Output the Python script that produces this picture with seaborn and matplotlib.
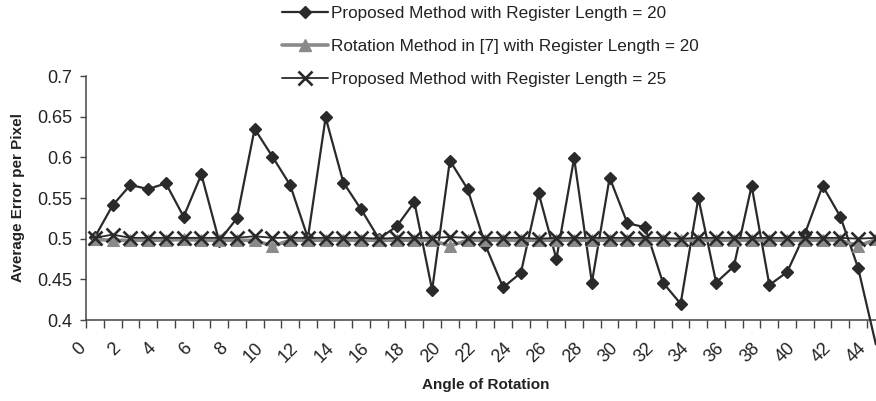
import numpy as np
import pandas as pd
import matplotlib
matplotlib.use("Agg")
import matplotlib.pyplot as plt
from matplotlib.lines import Line2D
from matplotlib.transforms import ScaledTranslation
import seaborn as sns

sns.set_style("white")
plt.rcParams['font.family'] = ['Liberation Sans', 'DejaVu Sans']

angles = list(range(0, 45))
proposed_20 = [0.502, 0.541, 0.566, 0.561, 0.568, 0.527, 0.579, 0.497, 0.525, 0.635,
               0.601, 0.566, 0.501, 0.649, 0.569, 0.536, 0.500, 0.515, 0.545, 0.437,
               0.596, 0.561, 0.492, 0.440, 0.458, 0.556, 0.475, 0.599, 0.446, 0.575,
               0.519, 0.514, 0.446, 0.420, 0.550, 0.446, 0.466, 0.565, 0.443, 0.459,
               0.506, 0.565, 0.527, 0.464, 0.370]
rotation_7 = [0.499, 0.498, 0.498, 0.498, 0.498, 0.499, 0.498, 0.498, 0.498, 0.498,
              0.491, 0.498, 0.498, 0.498, 0.498, 0.498, 0.498, 0.498, 0.498, 0.498,
              0.491, 0.498, 0.498, 0.498, 0.498, 0.498, 0.498, 0.498, 0.498, 0.498,
              0.498, 0.498, 0.498, 0.498, 0.498, 0.498, 0.498, 0.498, 0.498, 0.498,
              0.498, 0.498, 0.498, 0.491, 0.499]
proposed_25 = [0.501, 0.505, 0.501, 0.501, 0.501, 0.501, 0.501, 0.501, 0.501, 0.503,
               0.501, 0.501, 0.501, 0.501, 0.501, 0.501, 0.500, 0.501, 0.501, 0.501,
               0.502, 0.501, 0.501, 0.501, 0.501, 0.500, 0.501, 0.501, 0.501, 0.501,
               0.501, 0.501, 0.501, 0.500, 0.501, 0.501, 0.501, 0.501, 0.501, 0.501,
               0.501, 0.501, 0.501, 0.500, 0.501]
x_tick_labels = [str(a) for a in range(0, 45, 2)]
y_ticks = [0.4, 0.45, 0.5, 0.55, 0.6, 0.65, 0.7]
labels = ["Proposed Method with Register Length = 20",
          "Rotation Method in [7] with Register Length = 20",
          "Proposed Method with Register Length = 25"]

df = pd.DataFrame({"angle": angles, "p20": proposed_20, "r7": rotation_7, "p25": proposed_25})

dark = "#2a2a2a"
gray = "#8a8a8a"

W, H = 876, 401
fig = plt.figure(figsize=(W / 100, H / 100), dpi=100)
cat_w = 17.75
ax = fig.add_axes([86 / W, (H - 320) / H, 45 * cat_w / W, (320 - 76) / H])

# series 1: line unclipped, markers clipped
sns.lineplot(data=df, x="angle", y="p20", ax=ax, color=dark, lw=1.6,
             errorbar=None, clip_on=False, zorder=3)
sns.lineplot(data=df, x="angle", y="p20", ax=ax, color=dark, linestyle="", marker="D",
             markersize=6.3, markeredgecolor=dark, markeredgewidth=1, errorbar=None, zorder=3)
# series 2
sns.lineplot(data=df, x="angle", y="r7", ax=ax, color=gray, lw=2.6, marker="^",
             markersize=8, markeredgecolor=gray, markerfacecolor=gray, errorbar=None, zorder=4)
# series 3
sns.lineplot(data=df, x="angle", y="p25", ax=ax, color=dark, lw=1.3, marker="x",
             markersize=9.5, markeredgewidth=1.9, markeredgecolor=dark, errorbar=None, zorder=5)

ax.set_xlim(-0.5, 44.5)
ax.set_ylim(0.4, 0.7)
ax.set_yticks(y_ticks)
ax.set_yticklabels([f"{v:g}" for v in y_ticks])
ax.set_xticks(list(range(0, 45, 2)))
ax.set_xticklabels(x_tick_labels, rotation=45, ha="right", va="top")
ax.set_xticks(np.arange(-0.5, 45, 1), minor=True)
ax.tick_params(axis="x", which="major", length=0, pad=14, labelsize=13, colors="#222222")
ax.tick_params(axis="x", which="minor", length=5.5, width=1, color="#444444", direction="out", bottom=True)
ax.tick_params(axis="y", which="major", length=4, width=1, color="#444444", direction="out",
               pad=6, labelsize=13, labelcolor="#222222", left=True)
shift = ScaledTranslation(-6 / 100, 0, fig.dpi_scale_trans)
for lab in ax.get_xticklabels():
    lab.set_transform(lab.get_transform() + shift)

for s in ["top", "right"]:
    ax.spines[s].set_visible(False)
for s in ["left", "bottom"]:
    ax.spines[s].set_color("#444444")
    ax.spines[s].set_linewidth(1.1)

ax.set_xlabel("Angle of Rotation", fontsize=11, fontweight="bold", color="#222222")
ax.set_ylabel("Average Error per Pixel", fontsize=11, fontweight="bold", color="#222222")
ax.yaxis.set_label_coords(-61 / (45 * cat_w), 0.5)
ax.xaxis.set_label_coords(0.5, -(378 - 320) / (320 - 76))

handles = [
    Line2D([], [], color=dark, lw=1.6, marker="D", markersize=6.3, markeredgecolor=dark),
    Line2D([], [], color=gray, lw=2.6, marker="^", markersize=9, markeredgecolor=gray),
    Line2D([], [], color=dark, lw=1.3, marker="x", markersize=9.5, markeredgewidth=1.9),
]
fig.legend(handles, labels, loc="upper left", bbox_to_anchor=(282 / W, 1 - 6 / H),
           frameon=False, fontsize=12.3, handlelength=2.7, handletextpad=0.15,
           labelspacing=1.06, borderpad=0, borderaxespad=0, labelcolor="#222222")

fig.savefig("out.png", dpi=100)
